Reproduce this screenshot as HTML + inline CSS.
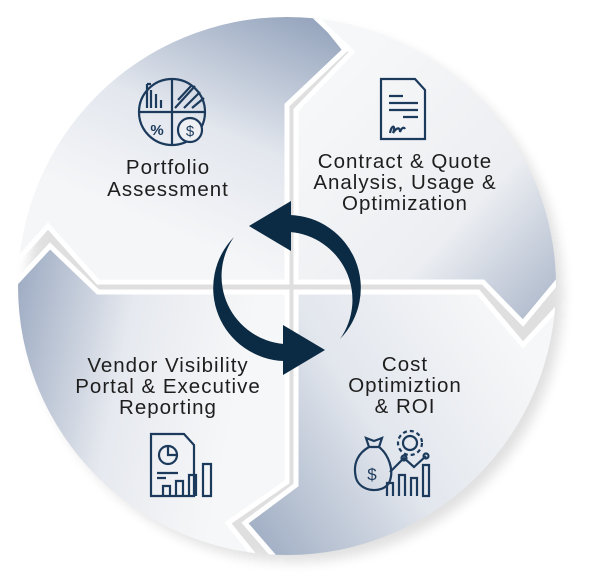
<!DOCTYPE html>
<html><head><meta charset="utf-8"><style>
html,body{margin:0;padding:0;background:#fff;}
svg{display:block;}
text{font-family:"Liberation Sans",sans-serif;font-size:20.5px;letter-spacing:1px;fill:#1e1e1e;text-anchor:middle;}
</style></head><body>
<svg width="600" height="586" viewBox="0 0 600 586" xmlns="http://www.w3.org/2000/svg">
<defs>
<clipPath id="c"><circle cx="287" cy="286" r="269"/></clipPath>
<linearGradient id="gTL" x1="0.75" y1="0" x2="0.35" y2="0.75"><stop offset="0" stop-color="#98a7bf"/><stop offset="0.55" stop-color="#e3e7ee"/><stop offset="1" stop-color="#f5f6f8"/></linearGradient>
<linearGradient id="gTR" x1="0.2" y1="0.2" x2="0.95" y2="0.95"><stop offset="0" stop-color="#f6f7f8"/><stop offset="0.55" stop-color="#eceef2"/><stop offset="1" stop-color="#a3b0c5"/></linearGradient>
<linearGradient id="gBR" x1="0" y1="0.8" x2="0.8" y2="0.3"><stop offset="0" stop-color="#9fadc3"/><stop offset="0.5" stop-color="#e2e6ed"/><stop offset="1" stop-color="#f6f7f8"/></linearGradient>
<linearGradient id="gBL" x1="0" y1="0.3" x2="0.8" y2="0.5"><stop offset="0" stop-color="#9dabc2"/><stop offset="0.5" stop-color="#e6e9ef"/><stop offset="1" stop-color="#f6f7f8"/></linearGradient>
<filter id="sh" x="-10%" y="-10%" width="120%" height="120%"><feGaussianBlur stdDeviation="6"/></filter>
</defs>
<circle cx="295" cy="294" r="268" fill="#000" opacity="0.12" filter="url(#sh)"/>
<g clip-path="url(#c)" stroke="#fff" stroke-width="5" stroke-linejoin="miter">
<polygon fill="url(#gTL)" points="0,0 305,0 345,50 287,105 287,282 98,282 48,226 0,280"/>
<polygon fill="url(#gTR)" points="305,0 600,0 600,230 523,323 483,282 296,282 296,110 352,52 312,14"/>
<polygon fill="url(#gBR)" points="296,292 478,292 523,345 600,262 600,600 300,600 290,575 245,523 296,485"/>
<polygon fill="url(#gBL)" points="0,300 50,246 98,292 287,292 287,482 228,523 290,600 0,600"/>
</g>
<!-- cycle arrows -->
<g fill="#0b2a44">
<path d="M290,215 A73 73 0 0 1 340,339 A68 68 0 0 0 290,232 Z"/>
<polygon points="249,226 291,201 291,251"/>
<g transform="rotate(180 287 288)">
<path d="M290,215 A73 73 0 0 1 340,339 A68 68 0 0 0 290,232 Z"/>
<polygon points="249,226 291,201 291,251"/>
</g>
</g>
<!-- icons -->
<g fill="none" stroke="#1c3a5c" stroke-width="2.2">
<circle cx="172" cy="112" r="33"/>
<line x1="172" y1="79" x2="172" y2="145"/><line x1="139" y1="112" x2="205" y2="112"/>
<path d="M175,108 L195,86 M178,100 L191,86 M184,108 L200,92 M192,108 L204,98"/>
<path d="M147,84 V108 M151,90 V108 M156,94 V108 M161,100 V108 M147,84 H151"/>
<text x="157" y="135" style="font-size:15px;letter-spacing:0;font-weight:bold;fill:#1c3a5c;stroke:none">%</text>
<circle cx="190" cy="130" r="12" fill="#eef0f3"/>
<text x="190" y="136" style="font-size:15px;letter-spacing:0;fill:#1c3a5c;stroke:none">$</text>
<path d="M381,79 H415 L425,90 V139 H381 Z"/>
<path d="M389,96 H403 M389,103 H418 M389,110 H418 M403,117 H418"/>
<path d="M390,133 C392,123 396,126 393,133 C397,127 400,127 400,132 C402,127 404,127 405,129"/>
<path d="M151,434 H184 L194,445 V496 H151 Z"/>
<circle cx="168" cy="455" r="9"/><path d="M168,446 V455 H177"/>
<path d="M157,473 H178 M157,478 H166"/>
<path d="M163,496 V486 H170 V496 M176,496 V481 H183 V496 M189,496 V475 H196 V496 M203,496 V464 H211 V496 Z"/>
<path d="M369,447 C360,452 352,462 356,478 C360,492 382,494 389,483 C395,470 388,454 379,447 Z"/>
<path d="M369,447 L366,438 L374,441 L382,438 L379,447"/>
<text x="372" y="480" style="font-size:17px;letter-spacing:0;fill:#1c3a5c;stroke:none">$</text>
<circle cx="410" cy="443" r="7"/><circle cx="410" cy="443" r="12" stroke-dasharray="4 3"/>
<path d="M390,472 L404,458 L414,467 L426,456"/>
<circle cx="404" cy="458" r="2.5"/><circle cx="426" cy="456" r="2.5"/>
<path d="M387,496 V483 H393 V496 M399,496 V475 H405 V496 M411,496 V478 H417 V496 M423,496 V465 H429 V496 Z"/>
</g>
<!-- labels -->
<text x="168" y="174">Portfolio</text>
<text x="168" y="196">Assessment</text>
<text x="405" y="168">Contract &amp; Quote</text>
<text x="405" y="189">Analysis, Usage &amp;</text>
<text x="405" y="210">Optimization</text>
<text x="168" y="372">Vendor Visibility</text>
<text x="168" y="393">Portal &amp; Executive</text>
<text x="168" y="414">Reporting</text>
<text x="405" y="371">Cost</text>
<text x="405" y="392">Optimiztion</text>
<text x="405" y="413">&amp; ROI</text>
</svg>
</body></html>
